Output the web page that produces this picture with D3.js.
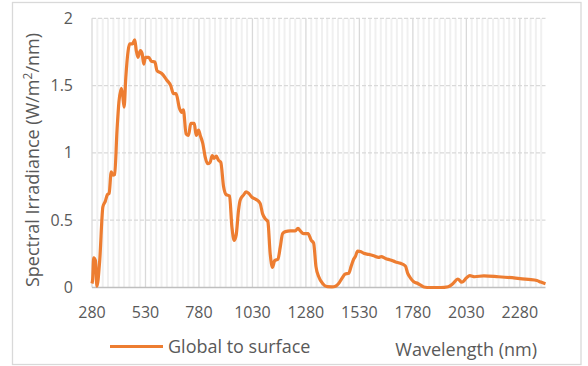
<!DOCTYPE html>
<html>
  <head>
    <meta charset="utf-8">
    <script src="https://d3js.org/d3.v7.min.js"></script>
    <title>Spectral Irradiance</title>
    <style>
      body {
        margin: 0px;
        background-color: white;
        overflow: hidden;
      }
      svg {
        display: block;
      }
      .tick-label, .legend-label, .axis-label {
        fill: #595959;
        font-family: 'Open Sans', sans-serif;
      }
    </style>
  </head>
  <body>
    <div id="graph"></div>
    <script>

      // values (nm -> W/m2/nm)
      const wavelength = [280, 283, 288, 296, 303, 316, 331, 342, 352, 360, 370, 378, 386, 397, 406, 417, 424, 430, 438, 449,
        456, 469, 480, 487, 495, 506, 514, 522, 530, 545, 558, 574, 584, 606, 630, 648, 661, 673, 689, 700,
        707, 720, 731, 742, 758, 767, 778, 786, 798, 809, 820, 832, 842, 851, 861, 871, 882, 895, 907, 923,
        934, 945, 954, 965, 973, 988, 1000, 1012, 1028, 1046, 1066, 1077, 1090, 1102, 1113, 1124, 1134, 1149, 1160, 1171,
        1184, 1207, 1230, 1243, 1254, 1269, 1290, 1305, 1316, 1327, 1340, 1358, 1379, 1402, 1418, 1433, 1449, 1464, 1480, 1491,
        1503, 1511, 1522, 1538, 1550, 1574, 1597, 1620, 1632, 1652, 1675, 1699, 1722, 1745, 1756, 1769, 1784, 1803, 1816, 1831,
        1863, 1909, 1945, 1968, 1990, 2009, 2030, 2046, 2069, 2112, 2180, 2260, 2320, 2360, 2378, 2400];
      const irradiance = [0.03, 0.06, 0.22, 0.20, 0.01, 0.20, 0.60, 0.64, 0.69, 0.70, 0.86, 0.835, 0.84, 1.17, 1.38, 1.48, 1.42, 1.34, 1.56, 1.76,
        1.81, 1.81, 1.84, 1.76, 1.71, 1.76, 1.74, 1.66, 1.71, 1.71, 1.68, 1.675, 1.61, 1.59, 1.54, 1.50, 1.44, 1.44, 1.33, 1.30,
        1.32, 1.14, 1.13, 1.22, 1.22, 1.13, 1.17, 1.13, 1.07, 0.97, 0.92, 0.93, 0.98, 0.96, 0.976, 0.946, 0.93, 0.75, 0.69, 0.68,
        0.45, 0.35, 0.39, 0.575, 0.65, 0.686, 0.71, 0.70, 0.67, 0.655, 0.625, 0.55, 0.51, 0.49, 0.25, 0.15, 0.20, 0.21, 0.30, 0.40,
        0.415, 0.42, 0.42, 0.44, 0.42, 0.40, 0.40, 0.35, 0.33, 0.155, 0.08, 0.03, 0.006, 0.005, 0.01, 0.03, 0.07, 0.10, 0.105, 0.155,
        0.21, 0.23, 0.27, 0.266, 0.254, 0.246, 0.236, 0.224, 0.23, 0.216, 0.204, 0.19, 0.18, 0.16, 0.105, 0.07, 0.043, 0.03, 0.018, 0.004,
        0.0, 0.0, 0.006, 0.03, 0.063, 0.039, 0.07, 0.088, 0.08, 0.087, 0.08, 0.07, 0.06, 0.052, 0.04, 0.028];
      const xTicks = [280, 530, 780, 1030, 1280, 1530, 1780, 2030, 2280];
      const yTicks = [0, 0.5, 1, 1.5, 2];
      const seriesName = 'Global to surface';

      const data = wavelength.map((w, i) => ({ w: w, v: irradiance[i] }));

      const margin = { left: 92, right: 42.5, top: 18.3, bottom: 78.5 };
      const width = 588;
      const height = 366;
      const innerWidth = width - margin.left - margin.right;
      const innerHeight = height - margin.top - margin.bottom;

      const svg = d3.select('#graph').append('svg')
        .attr('width', width)
        .attr('height', height);

      // outer chart border
      svg.append('rect')
        .attr('x', 12.5)
        .attr('y', 2.5)
        .attr('width', 568.5)
        .attr('height', 362)
        .attr('fill', 'white')
        .attr('stroke', '#d9d9d9')
        .attr('stroke-width', 1.3);

      const g = svg.append('g')
        .attr('transform', `translate(${margin.left},${margin.top})`);

      const xScale = d3.scaleLinear()
        .domain([280, 2400])
        .range([0, innerWidth]);

      const yScale = d3.scaleLinear()
        .domain([0, 2])
        .range([innerHeight, 0]);

      // minor vertical grid every 25 nm
      g.append('g').selectAll('line')
        .data(d3.range(305, 2400, 25).filter(d => (d - 280) % 250 != 0))
        .enter().append('line')
          .attr('x1', d => xScale(d))
          .attr('x2', d => xScale(d))
          .attr('y1', 0)
          .attr('y2', innerHeight)
          .attr('stroke', '#f0f0f0')
          .attr('stroke-width', 2);

      // major vertical grid
      g.append('g').selectAll('line')
        .data(xTicks)
        .enter().append('line')
          .attr('x1', d => xScale(d))
          .attr('x2', d => xScale(d))
          .attr('y1', 0)
          .attr('y2', innerHeight)
          .attr('stroke', '#d9d9d9')
          .attr('stroke-width', 1.3);

      // horizontal dashed grid
      g.append('g').selectAll('line')
        .data(yTicks.filter(d => d > 0))
        .enter().append('line')
          .attr('x1', 0)
          .attr('x2', innerWidth)
          .attr('y1', d => yScale(d))
          .attr('y2', d => yScale(d))
          .attr('stroke', '#d9d9d9')
          .attr('stroke-width', 1.3)
          .attr('stroke-dasharray', '4,2');

      // x axis line
      g.append('line')
        .attr('x1', 0)
        .attr('x2', innerWidth)
        .attr('y1', innerHeight)
        .attr('y2', innerHeight)
        .attr('stroke', '#bfbfbf')
        .attr('stroke-width', 1.3);

      // tick labels
      g.append('g').selectAll('text')
        .data(xTicks)
        .enter().append('text')
          .attr('class', 'tick-label')
          .attr('x', d => xScale(d))
          .attr('y', innerHeight + 31)
          .attr('text-anchor', 'middle')
          .style('font-size', '16px')
          .text(d => d);

      g.append('g').selectAll('text')
        .data(yTicks)
        .enter().append('text')
          .attr('class', 'tick-label')
          .attr('x', -19)
          .attr('y', d => yScale(d))
          .attr('dy', '0.35em')
          .attr('text-anchor', 'end')
          .style('font-size', '16px')
          .text(d => d);

      // the spectrum
      const line = d3.line()
        .x(d => xScale(d.w))
        .y(d => yScale(d.v))
        .curve(d3.curveMonotoneX);

      g.append('path')
        .datum(data)
        .attr('fill', 'none')
        .attr('stroke', '#ed7d31')
        .attr('stroke-width', 3.2)
        .attr('stroke-linejoin', 'round')
        .attr('d', line);

      // y axis title
      const yTitle = svg.append('text')
        .attr('class', 'axis-label')
        .attr('transform', 'translate(39,160) rotate(-90)')
        .attr('text-anchor', 'middle')
        .style('font-size', '18px');
      yTitle.append('tspan').text('Spectral Irradiance (W/m');
      yTitle.append('tspan').attr('dy', -7).style('font-size', '12px').text('2');
      yTitle.append('tspan').attr('dy', 7).text('/nm)');

      // x axis title
      svg.append('text')
        .attr('class', 'axis-label')
        .attr('x', 537)
        .attr('y', 356)
        .attr('text-anchor', 'end')
        .style('font-size', '18px')
        .text('Wavelength (nm)');

      // legend
      svg.append('line')
        .attr('x1', 110)
        .attr('x2', 163)
        .attr('y1', 346.5)
        .attr('y2', 346.5)
        .attr('stroke', '#ed7d31')
        .attr('stroke-width', 3.2);

      svg.append('text')
        .attr('class', 'legend-label')
        .attr('x', 168)
        .attr('y', 352.5)
        .style('font-size', '18px')
        .text(seriesName);

    </script>
  </body>
</html>
